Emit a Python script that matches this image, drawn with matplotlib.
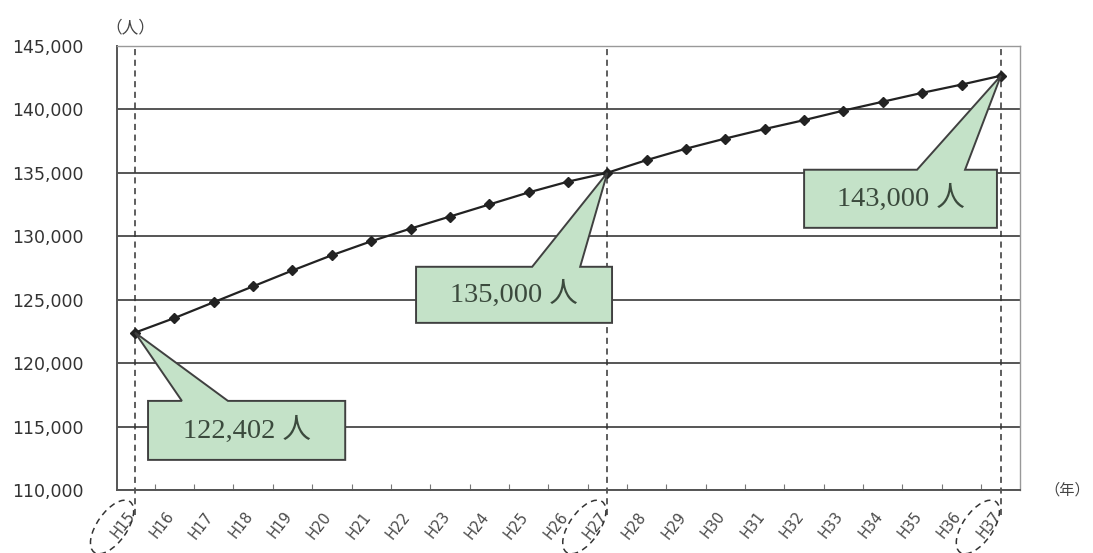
import numpy as np
import matplotlib.pyplot as plt
from matplotlib.patches import Polygon, Ellipse
from matplotlib.transforms import IdentityTransform, ScaledTranslation
from matplotlib.ticker import FuncFormatter

# population per year (H15 .. H37)
years = ['H15', 'H16', 'H17', 'H18', 'H19', 'H20', 'H21', 'H22', 'H23', 'H24', 'H25', 'H26',
         'H27', 'H28', 'H29', 'H30', 'H31', 'H32', 'H33', 'H34', 'H35', 'H36', 'H37']
population = [122402, 123550, 124800, 126050, 127300, 128500, 129600, 130600, 131550, 132500,
              133450, 134300, 135000, 136000, 136900, 137700, 138450, 139150, 139900, 140600,
              141300, 141950, 142650]
highlight_idx = [0, 12, 22]
callout_text = ['122,402 人', '135,000 人', '143,000 人']
# box (x0, x1, y0, y1) and wedge base (xa, xb) in data units
callout_box = [(0.33, 5.34, 112370, 117020, 1.19, 2.36),
               (7.14, 12.12, 123170, 127590, 10.09, 11.31),
               (17.0, 21.9, 130660, 135240, 19.87, 21.09)]
y_ticks = list(range(110000, 145001, 5000))

plt.rcParams['font.family'] = ['DejaVu Sans', 'Noto Sans CJK JP']

fig = plt.figure(figsize=(10.93, 5.53), dpi=100)
ax = fig.add_axes([0.107, 0.114, 0.826, 0.803])

x = np.arange(len(years))
ax.set_xlim(-0.46, 22.48)
ax.set_ylim(110000, 145000)

ax.set_yticks(y_ticks)
ax.yaxis.set_major_formatter(FuncFormatter(lambda v, p: f'{int(v):,}'))
ax.tick_params(axis='y', length=0, labelsize=12.5, labelcolor='#333333', pad=24)
ax.grid(axis='y', color='#555555', lw=1.4)
ax.set_axisbelow(True)

# year labels drawn by hand so they can sit a little left of each point
ax.set_xticks(x[:-1] + 0.5)
ax.set_xticklabels([])
ax.tick_params(axis='x', length=4, color='#777777', direction='in')
shift = ScaledTranslation(-9 / 100, -19 / 100, fig.dpi_scale_trans)
for xi, lab in zip(x, years):
    ax.text(xi, 0, lab, rotation=52, ha='right', va='top', rotation_mode='anchor',
            fontsize=10.5, color='#4a4a4a', transform=ax.get_xaxis_transform() + shift,
            clip_on=False)

for s in ['left', 'bottom']:
    ax.spines[s].set_color('#555555')
    ax.spines[s].set_linewidth(1.4)
for s in ['top', 'right']:
    ax.spines[s].set_color('#999999')
    ax.spines[s].set_linewidth(1.0)

# dashed markers for the key years
for i in highlight_idx:
    ax.plot([x[i], x[i]], [108000, 145000], color='#333333', lw=1.1, ls=(0, (4, 3)),
            clip_on=False, zorder=2)

ax.plot(x, population, color='#222222', lw=1.6, marker='D', ms=5, zorder=4)

# callouts
for i, txt, (x0, x1, y0, y1, xa, xb) in zip(highlight_idx, callout_text, callout_box):
    verts = [(x0, y0), (x1, y0), (x1, y1), (xb, y1), (x[i], population[i]), (xa, y1), (x0, y1)]
    ax.add_patch(Polygon(verts, closed=True, facecolor='#c4e2c8', edgecolor='#404040',
                         lw=1.4, zorder=5))
    ax.text((x0 + x1) / 2, (y0 + y1) / 2, txt, ha='center', va='center', fontsize=20.5,
            color='#3b4a3d', family=['Liberation Serif', 'Noto Sans CJK JP'], zorder=6)

# dashed ellipses round the key year labels
fig.canvas.draw()
for i in highlight_idx:
    px, py = ax.transData.transform((x[i], 110000))
    e = Ellipse((px - 23, py - 37), 62, 30, angle=55, fill=False, edgecolor='#333333',
                lw=1.1, ls=(0, (4, 3)), transform=IdentityTransform(), clip_on=False)
    fig.add_artist(e)

fig.text(0.119, 0.949, '（人）', fontsize=12, color='#444444', ha='center', va='center',
         family=['Noto Sans CJK JP'])
fig.text(0.976, 0.114, '（年）', fontsize=11, color='#444444', ha='center', va='center',
         family=['Noto Sans CJK JP'])

fig.savefig('out.png', dpi=100)
